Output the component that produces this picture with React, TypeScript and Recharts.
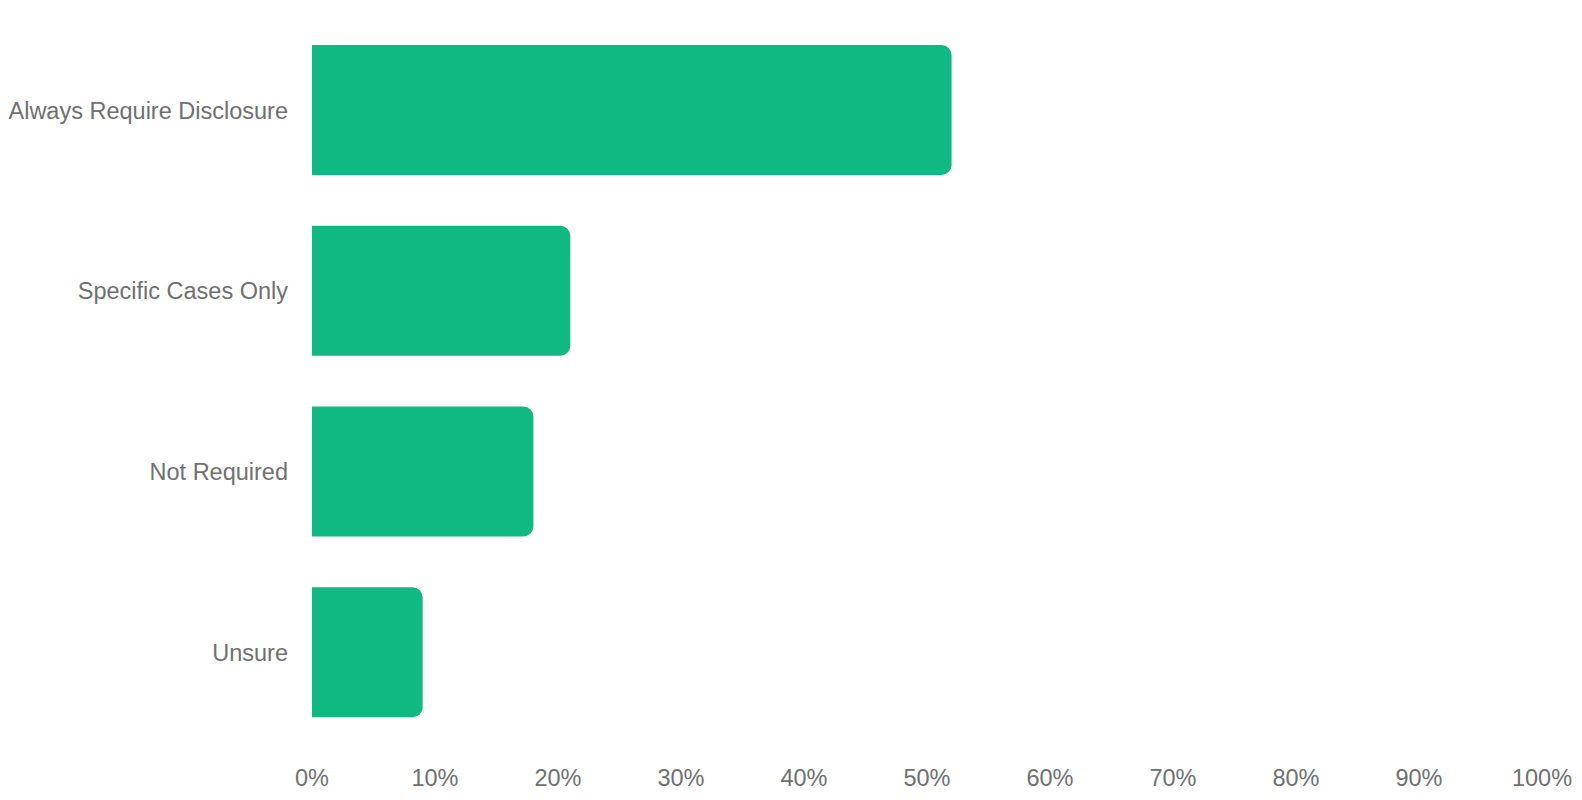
import React from "react";
import { BarChart, Bar, XAxis, YAxis } from "recharts";

const categories = [
  "Always Require Disclosure",
  "Specific Cases Only",
  "Not Required",
  "Unsure",
];
const shares = [52, 21, 18, 9];
const xTicks = [0, 10, 20, 30, 40, 50, 60, 70, 80, 90, 100];

const data = categories.map((name, i) => ({ name, value: shares[i] }));

const tickStyle = {
  fill: "#707070",
  fontSize: 23.5,
  fontFamily: "'Liberation Sans', Arial, Helvetica, sans-serif",
};

export default function App() {
  return (
    <div style={{ position: "absolute", left: 0, top: 0, width: 1582, height: 800, background: "#fff" }}>
      <BarChart
        width={1582}
        height={800}
        data={data}
        layout="vertical"
        margin={{ top: 20, right: 40, bottom: 0, left: 0 }}
        barSize={130}
      >
        <XAxis
          type="number"
          domain={[0, 100]}
          ticks={xTicks}
          tickFormatter={(v) => `${v}%`}
          axisLine={false}
          tickLine={false}
          tickSize={0}
          tickMargin={26}
          height={57}
          tick={tickStyle}
          interval={0}
        />
        <YAxis
          type="category"
          dataKey="name"
          width={312}
          axisLine={false}
          tickLine={false}
          tickSize={0}
          tickMargin={24}
          tick={tickStyle}
          interval={0}
        />
        <Bar dataKey="value" fill="#10B981" radius={[0, 10, 10, 0]} barSize={130} isAnimationActive={false} />
      </BarChart>
    </div>
  );
}
